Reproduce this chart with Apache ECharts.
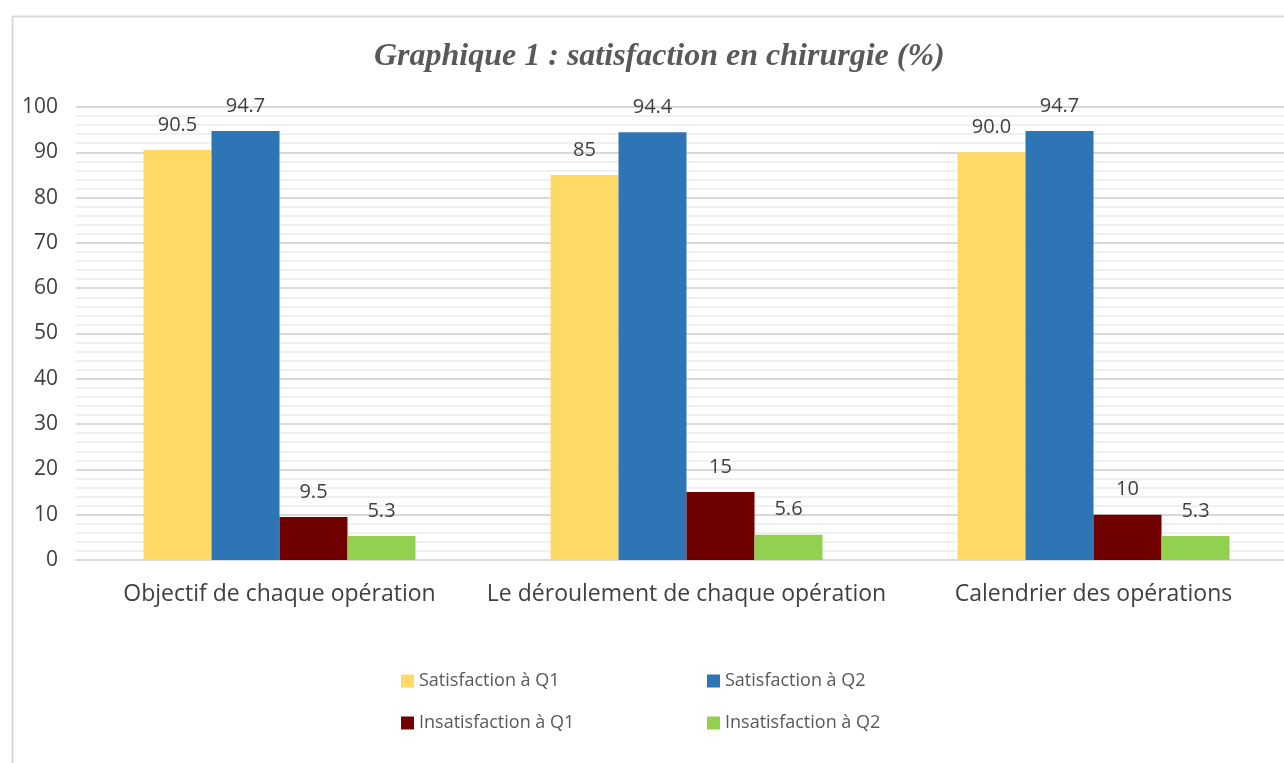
<!DOCTYPE html>
<html>
<head>
<meta charset="utf-8">
<script src="https://cdn.jsdelivr.net/npm/echarts@6/dist/echarts.min.js"></script>
<style>
  html, body { margin: 0; padding: 0; background: #fff; }
  #chart { width: 1284px; height: 763px; }
</style>
</head>
<body>
<div id="chart"></div>
<script>
// catégories et valeurs
var categories = ['Objectif de chaque opération', 'Le déroulement de chaque opération', 'Calendrier des opérations'];
var seriesNames = ['Satisfaction à Q1', 'Satisfaction à Q2', 'Insatisfaction à Q1', 'Insatisfaction à Q2'];
var satQ1 = [90.5, 85, 90.0];
var satQ2 = [94.7, 94.4, 94.7];
var insatQ1 = [9.5, 15, 10];
var insatQ2 = [5.3, 5.6, 5.3];
// textes des étiquettes tels qu'affichés
var satQ1Labels = ['90.5', '85', '90.0'];
var satQ2Labels = ['94.7', '94.4', '94.7'];
var insatQ1Labels = ['9.5', '15', '10'];
var insatQ2Labels = ['5.3', '5.6', '5.3'];
var yTicks = [0, 100, 10];

var colors = ['#FFD966', '#2E75B6', '#700000', '#92D050'];
var allValues = [satQ1, satQ2, insatQ1, insatQ2];
var allLabels = [satQ1Labels, satQ2Labels, insatQ1Labels, insatQ2Labels];

var dom = document.getElementById('chart');
var myChart = echarts.init(dom, null, {renderer: 'canvas'});

function makeSeries(i) {
    var labels = allLabels[i];
    return {
        name: seriesNames[i],
        type: 'bar',
        barWidth: 68,
        barGap: '0%',
        data: allValues[i],
        itemStyle: { color: colors[i] },
        label: {
            show: true,
            position: 'top',
            distance: 15,
            fontSize: 20,
            fontFamily: 'Open Sans, Noto Sans, sans-serif',
            color: '#404040',
            formatter: function (p) { return labels[p.dataIndex]; }
        }
    };
}

function makeLegend(name, left, top) {
    return {
        data: [name],
        left: left,
        top: top,
        itemWidth: 13,
        itemHeight: 13,
        itemGap: 6,
        icon: 'rect',
        textStyle: {
            fontSize: 18,
            fontFamily: 'Open Sans, Noto Sans, sans-serif',
            color: '#595959'
        }
    };
}

var option = {
    backgroundColor: '#fff',
    animation: false,
    title: {
        text: 'Graphique 1 : satisfaction en chirurgie (%)',
        left: 369,
        top: 36,
        textStyle: {
            fontFamily: 'Liberation Serif, Times New Roman, serif',
            fontStyle: 'italic',
            fontWeight: 'bold',
            fontSize: 32,
            color: '#595959'
        }
    },
    graphic: [{
        type: 'rect',
        left: 10,
        top: 14,
        shape: { width: 1290, height: 760 },
        style: { fill: 'none', stroke: '#d9d9d9', lineWidth: 2 },
        silent: true
    }],
    legend: [
        makeLegend(seriesNames[0], 396, 667),
        makeLegend(seriesNames[1], 702, 667),
        makeLegend(seriesNames[2], 396, 709),
        makeLegend(seriesNames[3], 702, 709)
    ],
    grid: {
        left: 76,
        top: 107,
        width: 1221,
        height: 453,
        containLabel: false,
        outerBoundsMode: 'none'
    },
    xAxis: {
        type: 'category',
        data: categories,
        axisLine: { show: true, lineStyle: { color: '#d9d9d9', width: 2 } },
        axisTick: { show: false },
        axisLabel: {
            interval: 0,
            fontSize: 23,
            margin: 23,
            fontFamily: 'Open Sans, Noto Sans, sans-serif',
            color: '#404040'
        }
    },
    yAxis: {
        type: 'value',
        min: yTicks[0],
        max: yTicks[1],
        interval: yTicks[2],
        axisLine: { show: false },
        axisTick: { show: false },
        axisLabel: {
            fontSize: 21,
            margin: 18,
            fontFamily: 'Open Sans, Noto Sans, sans-serif',
            color: '#404040'
        },
        splitLine: { show: true, lineStyle: { color: '#d9d9d9', width: 2 } },
        minorTick: { show: false, splitNumber: 5 },
        minorSplitLine: { show: true, lineStyle: { color: '#f0f0f0', width: 2 } }
    },
    series: [makeSeries(0), makeSeries(1), makeSeries(2), makeSeries(3)]
};

myChart.setOption(option);
</script>
</body>
</html>
